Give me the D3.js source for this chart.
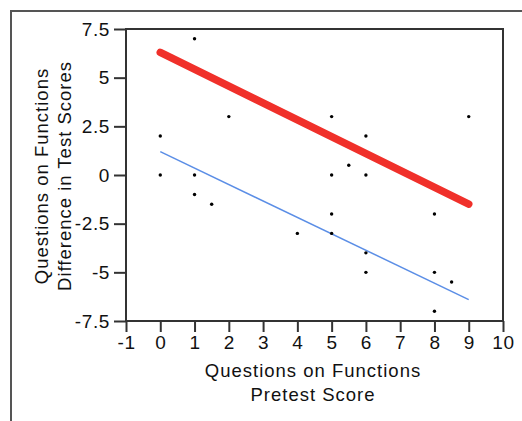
<!DOCTYPE html>
<html>
<head>
<meta charset="utf-8">
<script src="https://cdn.jsdelivr.net/npm/d3@7"></script>
<style>
  body { margin: 0; background: #fff; }
  svg { display: block; }
  svg text { font-family: "Liberation Sans", Arial, sans-serif; letter-spacing: 1px; }
</style>
</head>
<body>
<svg></svg>
<script>
var width = 522,
	height = 421;

// pretest score (x) and difference in test scores (y)
var pretest = [0, 0, 1, 1, 1, 1.5, 2, 4, 5, 5, 5, 5, 5.5, 6, 6, 6, 6, 8, 8, 8, 8.5, 9];
var diff    = [2, 0, 7, 0, -1, -1.5, 3, -3, 3, 0, -2, -3, 0.5, 2, 0, -4, -5, -2, -5, -7, -5.5, 3];

// fitted lines: [x, y] at both ends
var redLine  = [[0, 6.3], [9, -1.5]];
var blueLine = [[0, 1.2], [9, -6.4]];

var xTicks = [-1, 0, 1, 2, 3, 4, 5, 6, 7, 8, 9, 10];
var yTicks = [-7.5, -5, -2.5, 0, 2.5, 5, 7.5];

var svg = d3.select("svg")
			.attr("width", width)
			.attr("height", height);

// outer frame (only top/left visible)
svg.append("rect")
	.attr("x", 11).attr("y", 11)
	.attr("width", 530).attr("height", 430)
	.attr("fill", "none")
	.attr("stroke", "#555")
	.attr("stroke-width", 2);

var x = d3.scaleLinear().domain([-1, 10]).range([126, 503]);
var y = d3.scaleLinear().domain([-7.5, 7.5]).range([321, 29]);

// plot box
svg.append("rect")
	.attr("x", x(-1)).attr("y", y(7.5))
	.attr("width", x(10) - x(-1)).attr("height", y(-7.5) - y(7.5))
	.attr("fill", "none")
	.attr("stroke", "#333")
	.attr("stroke-width", 2);

var xAxis = svg.append("g")
	.attr("transform", "translate(0," + y(-7.5) + ")")
	.call(d3.axisBottom(x).tickValues(xTicks).tickSize(11).tickPadding(4).tickFormat(function(d) { return String(d); }));

var yAxis = svg.append("g")
	.attr("transform", "translate(" + x(-1) + ",0)")
	.call(d3.axisLeft(y).tickValues(yTicks).tickSize(12).tickPadding(4).tickFormat(function(d) { return String(d); }));

[xAxis, yAxis].forEach(function(g) {
	g.attr("font-family", null).attr("font-size", null);
	g.select(".domain").remove();
	g.selectAll("line").attr("stroke", "#333").attr("stroke-width", 2);
	g.selectAll("text").attr("fill", "#111").style("font-size", "19px").style("letter-spacing", "0.6px");
});

var line = d3.line()
	.x(function(d) { return x(d[0]); })
	.y(function(d) { return y(d[1]); });

svg.append("path")
	.attr("d", line(redLine))
	.attr("fill", "none")
	.attr("stroke", "#f0302a")
	.attr("stroke-width", 7.5)
	.attr("stroke-linecap", "round");

svg.append("path")
	.attr("d", line(blueLine))
	.attr("fill", "none")
	.attr("stroke", "#5b8ee6")
	.attr("stroke-width", 1.5);

svg.append("g")
	.selectAll("circle")
	.data(pretest)
	.enter()
	.append("circle")
	.attr("cx", function(d) { return x(d); })
	.attr("cy", function(d, i) { return y(diff[i]); })
	.attr("r", 1.7)
	.attr("fill", "#000");

// axis titles
var xt = svg.append("text")
	.attr("text-anchor", "middle")
	.style("font-size", "18.5px")
	.attr("fill", "#111");
xt.append("tspan").attr("x", 313).attr("y", 377).text("Questions on Functions");
xt.append("tspan").attr("x", 313).attr("y", 401).text("Pretest Score");

var yt = svg.append("text")
	.attr("text-anchor", "middle")
	.attr("transform", "translate(0,176) rotate(-90)")
	.style("font-size", "18.5px")
	.attr("fill", "#111");
yt.append("tspan").attr("x", 0).attr("y", 48).text("Questions on Functions");
yt.append("tspan").attr("x", 0).attr("y", 71).text("Difference in Test Scores");
</script>
</body>
</html>
